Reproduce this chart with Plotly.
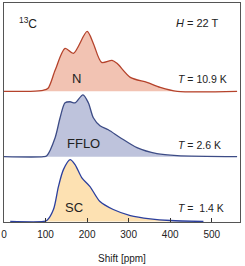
import plotly.graph_objects as go

# Spectra (shift in ppm, intensity in arbitrary units)
N_ppm = [0, 63, 94, 106, 123, 147, 167, 200, 215, 235, 260, 272, 304, 344, 376, 417, 561]
N_int = [0, 0, 1, 3, 21, 43, 38, 60, 48, 29, 31, 28, 14, 9, 4, 0, 0]

FFLO_ppm = [0, 95, 103, 123, 135, 147, 159, 171, 190, 203, 215, 231, 251, 280, 320, 368, 417, 561]
FFLO_int = [0, 0, 1, 19, 39, 54, 55, 54, 62, 54, 39, 31, 27, 19, 9, 3, 1, 0]

SC_ppm = [15, 95, 103, 119, 131, 143, 159, 171, 187, 207, 231, 263, 304, 352, 400, 480]
SC_int = [0, 0, 1, 12, 35, 52, 62, 57, 44, 35, 20, 12, 6, 2.7, 1, 0]

offsets = {"N": 131, "FFLO": 65.5, "SC": 0.5}
labels = {"N": " = 10.9 K", "FFLO": " = 2.6 K", "SC": " =  1.4 K"}

x_ticks = [0, 100, 200, 300, 400, 500]

series = [
    ("N", N_ppm, N_int, "#b5432c", "#f2c3b3"),
    ("FFLO", FFLO_ppm, FFLO_int, "#3d4c86", "#bec3dc"),
    ("SC", SC_ppm, SC_int, "#2b3f9e", "#fde1b2"),
]

fig = go.Figure()
for name, xs, ys, lc, fc in series:
    off = offsets[name]
    fig.add_trace(go.Scatter(x=[xs[0], xs[-1]], y=[off, off], mode="lines",
                             line=dict(width=0, color=lc), showlegend=False,
                             hoverinfo="skip"))
    fig.add_trace(go.Scatter(x=xs, y=[v + off for v in ys], mode="lines",
                             line=dict(color=lc, width=1.3, shape="spline", smoothing=0.8),
                             fill="tonexty", fillcolor=fc, showlegend=False))

font = "Liberation Sans, Arial, sans-serif"
ann = []
ann.append(dict(x=32, y=199, text="<sup>13</sup>C", showarrow=False, xanchor="left",
                font=dict(size=12, color="#222")))
ann.append(dict(x=408, y=199, text="<i>H</i> = 22 T", showarrow=False, xanchor="left",
                font=dict(size=11, color="#222")))
name_pos = {"N": (158, 144), "FFLO": (148, 78.5), "SC": (143, 14.5)}
t_pos = {"N": 143, "FFLO": 77.5, "SC": 14.5}
for name in ["N", "FFLO", "SC"]:
    nx, ny = name_pos[name]
    ann.append(dict(x=nx, y=ny, text=name, showarrow=False, xanchor="left",
                    font=dict(size=13, color="#222")))
    ann.append(dict(x=415, y=t_pos[name], text="<i>T</i>" + labels[name], showarrow=False,
                    xanchor="left", font=dict(size=10.5, color="#222")))

fig.update_layout(
    width=245, height=266,
    margin=dict(l=4, r=5, t=3, b=44, autoexpand=False),
    paper_bgcolor="white", plot_bgcolor="white",
    font=dict(family=font, size=10, color="#222"),
    annotations=ann,
    xaxis=dict(range=[0, 568], tickvals=x_ticks, ticks="inside", ticklen=4,
               tickcolor="#333", showline=True, linecolor="#555", linewidth=1,
               mirror=True, showgrid=False, zeroline=False, automargin=False,
               ticklabelstandoff=3,
               title=dict(text="Shift [ppm]", font=dict(size=10), standoff=15),
               tickfont=dict(size=10)),
    yaxis=dict(range=[0, 219.5], showticklabels=False, ticks="", showline=True,
               linecolor="#555", linewidth=1, mirror=True, showgrid=False,
               zeroline=False, automargin=False),
)

fig.write_html("out.html", config={"displayModeBar": False},
               post_script="document.body.style.margin='0';document.body.style.padding='0';")
